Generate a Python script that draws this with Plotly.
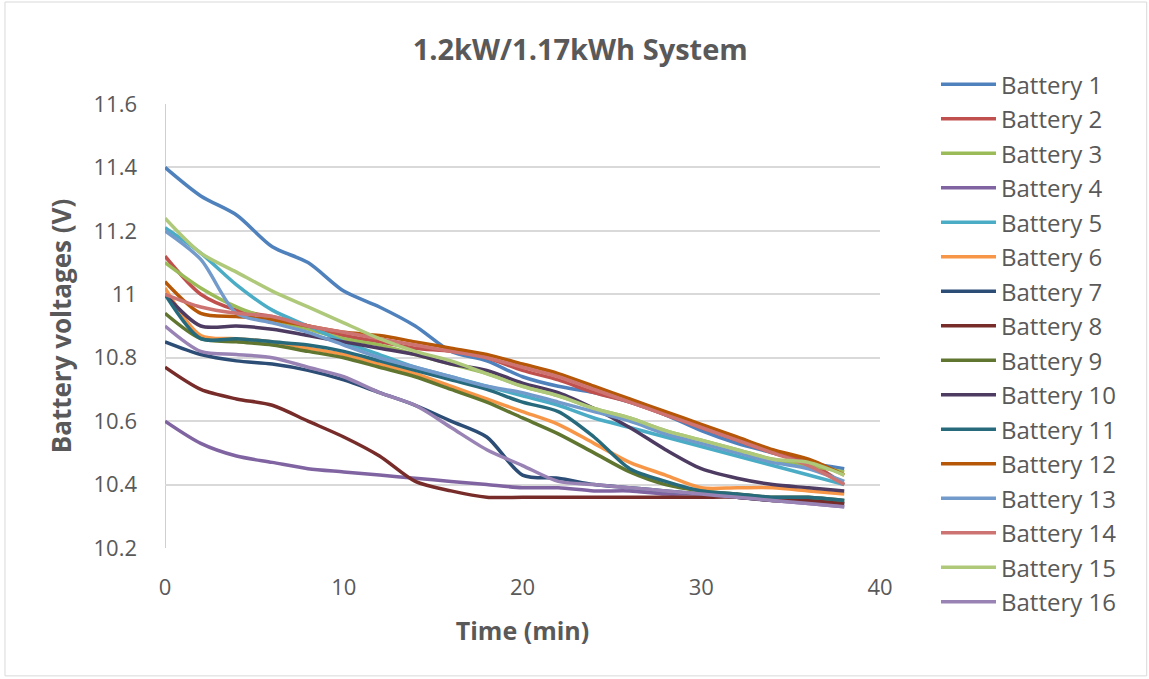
import plotly.graph_objects as go

time_min = [0, 2, 4, 6, 8, 10, 12, 14, 16, 18, 20, 22, 24, 26, 28, 30, 32, 34, 36, 38]

battery_1 = [11.40, 11.31, 11.25, 11.15, 11.10, 11.01, 10.96, 10.90, 10.82, 10.79, 10.74, 10.71, 10.69, 10.66, 10.62, 10.57, 10.53, 10.50, 10.47, 10.45]
battery_2 = [11.12, 11.00, 10.95, 10.93, 10.90, 10.87, 10.85, 10.83, 10.82, 10.80, 10.76, 10.73, 10.69, 10.66, 10.62, 10.58, 10.54, 10.50, 10.47, 10.40]
battery_3 = [11.10, 11.02, 10.96, 10.92, 10.89, 10.86, 10.84, 10.81, 10.78, 10.75, 10.71, 10.68, 10.64, 10.61, 10.57, 10.54, 10.51, 10.48, 10.46, 10.44]
battery_4 = [10.60, 10.53, 10.49, 10.47, 10.45, 10.44, 10.43, 10.42, 10.41, 10.40, 10.39, 10.39, 10.38, 10.38, 10.37, 10.37, 10.36, 10.35, 10.34, 10.33]
battery_5 = [11.21, 11.13, 11.03, 10.95, 10.90, 10.85, 10.81, 10.77, 10.74, 10.71, 10.68, 10.65, 10.61, 10.58, 10.55, 10.52, 10.49, 10.46, 10.43, 10.40]
battery_6 = [11.02, 10.87, 10.86, 10.85, 10.83, 10.81, 10.78, 10.75, 10.71, 10.67, 10.63, 10.59, 10.53, 10.47, 10.43, 10.39, 10.39, 10.39, 10.38, 10.37]
battery_7 = [10.85, 10.81, 10.79, 10.78, 10.76, 10.73, 10.69, 10.65, 10.60, 10.55, 10.43, 10.42, 10.40, 10.39, 10.38, 10.37, 10.36, 10.35, 10.35, 10.34]
battery_8 = [10.77, 10.70, 10.67, 10.65, 10.60, 10.55, 10.49, 10.41, 10.38, 10.36, 10.36, 10.36, 10.36, 10.36, 10.36, 10.36, 10.36, 10.35, 10.35, 10.34]
battery_9 = [10.94, 10.86, 10.85, 10.84, 10.82, 10.80, 10.77, 10.74, 10.70, 10.66, 10.61, 10.56, 10.50, 10.44, 10.40, 10.38, 10.37, 10.36, 10.36, 10.35]
battery_10 = [11.00, 10.90, 10.90, 10.89, 10.87, 10.85, 10.83, 10.81, 10.78, 10.76, 10.72, 10.69, 10.64, 10.58, 10.51, 10.45, 10.42, 10.40, 10.39, 10.38]
battery_11 = [11.00, 10.86, 10.86, 10.85, 10.84, 10.82, 10.79, 10.76, 10.73, 10.70, 10.66, 10.63, 10.55, 10.45, 10.41, 10.38, 10.37, 10.36, 10.36, 10.35]
battery_12 = [11.04, 10.94, 10.93, 10.92, 10.90, 10.88, 10.87, 10.85, 10.83, 10.81, 10.78, 10.75, 10.71, 10.67, 10.63, 10.59, 10.55, 10.51, 10.48, 10.43]
battery_13 = [11.20, 11.11, 10.94, 10.91, 10.88, 10.84, 10.80, 10.77, 10.74, 10.71, 10.69, 10.66, 10.63, 10.60, 10.56, 10.53, 10.50, 10.47, 10.45, 10.41]
battery_14 = [11.00, 10.96, 10.94, 10.93, 10.90, 10.88, 10.86, 10.84, 10.82, 10.80, 10.77, 10.74, 10.70, 10.66, 10.62, 10.58, 10.54, 10.50, 10.46, 10.40]
battery_15 = [11.24, 11.13, 11.07, 11.01, 10.96, 10.91, 10.86, 10.82, 10.79, 10.75, 10.71, 10.68, 10.64, 10.61, 10.57, 10.54, 10.51, 10.48, 10.47, 10.43]
battery_16 = [10.90, 10.82, 10.81, 10.80, 10.77, 10.74, 10.69, 10.65, 10.58, 10.51, 10.46, 10.41, 10.40, 10.39, 10.38, 10.37, 10.36, 10.35, 10.34, 10.33]

series = [battery_1, battery_2, battery_3, battery_4, battery_5, battery_6, battery_7, battery_8,
          battery_9, battery_10, battery_11, battery_12, battery_13, battery_14, battery_15, battery_16]
names = ["Battery %d" % (i + 1) for i in range(16)]
colors = ["#4F81BD", "#C0504D", "#9BBB59", "#8064A2", "#4BACC6", "#F79646", "#2C4D75", "#772C2A",
          "#5F7530", "#4D3B62", "#276A7C", "#B65708", "#729ACA", "#CD7371", "#AFC97A", "#9983B5"]

y_ticks = [10.2, 10.4, 10.6, 10.8, 11, 11.2, 11.4, 11.6]
y_tick_text = ["10.2", "10.4", "10.6", "10.8", "11", "11.2", "11.4", "11.6"]
x_ticks = [0, 10, 20, 30, 40]

FONT = "'Open Sans', Lato, sans-serif"
GREY = "#595959"

fig = go.Figure()
for name, vals, col in zip(names, series, colors):
    fig.add_trace(go.Scatter(
        x=time_min, y=vals, name=name, mode="lines",
        line=dict(color=col, width=3.5, shape="spline", smoothing=0.8),
        legendgroup=name,
    ))

fig.update_layout(
    width=1149, height=679,
    paper_bgcolor="white", plot_bgcolor="white",
    margin=dict(l=165, r=269, t=104, b=131),
    title=dict(text="<b>1.2kW/1.17kWh System</b>", x=0.505, xanchor="center",
               y=0.926, yanchor="middle", font=dict(family=FONT, size=29, color=GREY)),
    font=dict(family=FONT, color=GREY),
    showlegend=True,
    legend=dict(x=1.0783, xanchor="left", y=1.094, yanchor="top",
                font=dict(family=FONT, size=24, color=GREY),
                tracegroupgap=0.3, itemwidth=55, bgcolor="rgba(0,0,0,0)",
                maxheight=660),
    xaxis=dict(range=[0, 40], tickvals=x_ticks, showgrid=False, zeroline=False,
               showline=False, ticks="", tickfont=dict(size=22, color=GREY), ticklabelstandoff=24,
               title=dict(text="<b>Time (min)</b>", font=dict(size=25, color=GREY), standoff=22)),
    yaxis=dict(range=[10.2, 11.6], tickvals=y_ticks, ticktext=y_tick_text,
               showgrid=True, gridcolor="#D9D9D9", gridwidth=1.5, zeroline=False,
               showline=False, ticks="", tickfont=dict(size=22, color=GREY), ticklabelstandoff=27,
               title=dict(text="<b>Battery voltages (V)</b>", font=dict(size=26, color=GREY), standoff=14)),
)

# vertical axis line at x = 0 and outer chart border
fig.add_shape(type="line", xref="x", yref="paper", x0=0, x1=0, y0=0, y1=1,
              line=dict(color="#BFBFBF", width=1.5), layer="below")
fig.add_shape(type="rect", xref="paper", yref="paper", x0=-0.2238, x1=1.373, y0=-0.288, y1=1.2297,
              line=dict(color="#D9D9D9", width=1), layer="below")

fig.write_html("out.html", config={"displayModeBar": False},
               post_script="document.body.style.margin='0';")
